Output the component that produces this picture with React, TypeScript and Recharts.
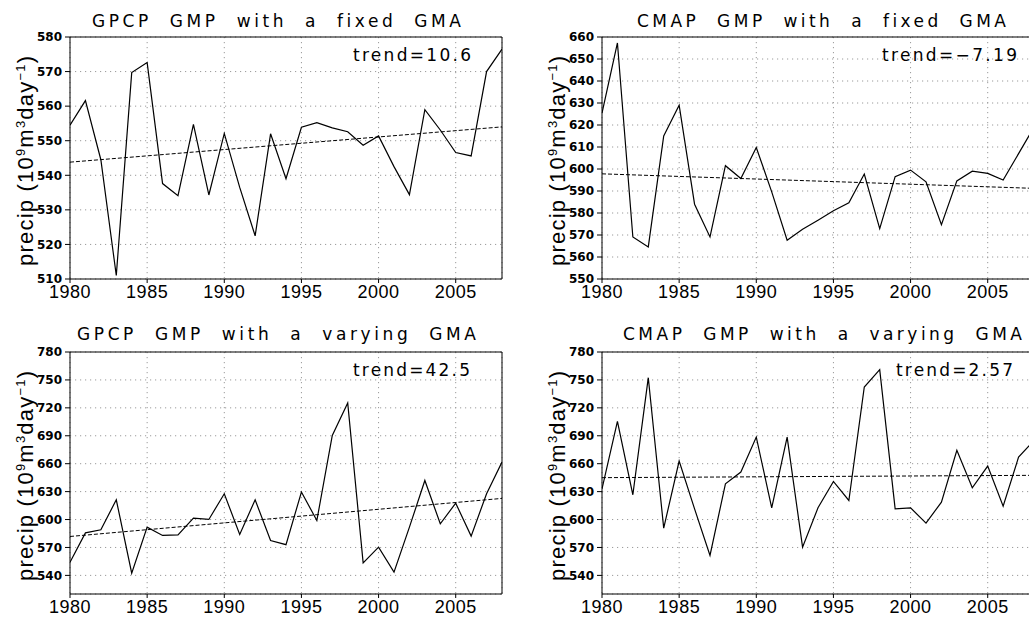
import React from "react";
import { LineChart, Line, XAxis, YAxis, CartesianGrid, ReferenceLine } from "recharts";

// years on the x axis
const years = [
  1980, 1981, 1982, 1983, 1984, 1985, 1986, 1987, 1988, 1989,
  1990, 1991, 1992, 1993, 1994, 1995, 1996, 1997, 1998, 1999,
  2000, 2001, 2002, 2003, 2004, 2005, 2006, 2007, 2008,
];
const yearTicks = [1980, 1985, 1990, 1995, 2000, 2005];
const trendYears = [1980, 2008];

// GMP series (10^9 m^3/day)
const gpcpFixed = [
  554.5, 561.6, 544.5, 511, 569.7, 572.6, 537.6, 534.1, 554.7, 534.3,
  552.1, 536.5, 522.5, 552, 539, 553.9, 555.2, 553.7, 552.6, 548.7,
  551.4, 542.5, 534.4, 559, 553.1, 546.6, 545.6, 570, 576.5,
];
const cmapFixed = [
  625.4, 657.3, 569.1, 564.6, 615, 629, 584, 569.1, 601.5, 595.7,
  609.8, 589.6, 567.6, 572.6, 576.7, 581, 584.6, 597.7, 572.9, 596.5,
  599.5, 594.2, 574.7, 594.6, 599, 598, 595, 607, 619,
];
const gpcpVarying = [
  554.2, 585.7, 589, 621.2, 542.4, 591.8, 582.9, 583.6, 601.5, 600.1,
  627.7, 584, 621.2, 577.5, 573, 629.5, 599, 690.4, 725.2, 553.5,
  570.3, 543.5, 591.8, 642, 595.4, 617.6, 582.2, 627.7, 661.7,
];
const cmapVarying = [
  633, 705.5, 626.6, 752.4, 590.8, 662.8, 611.5, 561.4, 638.4, 651,
  688.6, 612.6, 688.6, 570.3, 612.6, 640.9, 620.5, 742.4, 761, 611.5,
  612.6, 596.1, 618.7, 674.3, 634.1, 657.4, 614.4, 667.1, 685,
];

// linear trend end points (1980, 2008)
const gpcpFixedTrend = [543.8, 554];
const cmapFixedTrend = [597.8, 591.2];
const gpcpVaryingTrend = [581.8, 622.7];
const cmapVaryingTrend = [645, 647.5];

const trendLabels = ["trend=10.6", "trend=\u22127.19", "trend=42.5", "trend=2.57"];
const titles = [
  "GPCP GMP with a fixed GMA",
  "CMAP GMP with a fixed GMA",
  "GPCP GMP with a varying GMA",
  "CMAP GMP with a varying GMA",
];

const fixedTicksGpcp = [510, 520, 530, 540, 550, 560, 570, 580];
const fixedTicksCmap = [550, 560, 570, 580, 590, 600, 610, 620, 630, 640, 650, 660];
const varyingTicks = [540, 570, 600, 630, 660, 690, 720, 750, 780];

const SANS = "'Liberation Sans', Arial, sans-serif";
const WIDE = "'DejaVu Sans', sans-serif";

interface PanelProps {
  left: number;
  top: number;
  values: number[];
  trend: number[];
  domain: [number, number];
  ticks: number[];
}

function YTick({ x, y, payload }: any) {
  return (
    <text x={x} y={y} dy={4.3} textAnchor="end" fontFamily={WIDE}
      fontWeight="bold" fontSize={12} fill="#000">
      {payload.value}
    </text>
  );
}

function XTick({ x, y, payload }: any) {
  return (
    <text x={x} y={y + 13} textAnchor="middle" fontFamily={SANS} fontSize={18}
      letterSpacing={0.5} fill="#000">
      {payload.value}
    </text>
  );
}

function Panel({ left, top, values, trend, domain, ticks }: Readonly<PanelProps>) {
  const data = years.map((year, i) => ({ year, value: values[i] }));
  return (
    <div style={{ position: "absolute", left, top }}>
      <LineChart width={520} height={310} data={data}
        margin={{ top: 37, right: 18, left: 30, bottom: 1 }}>
        <CartesianGrid stroke="#9a9a9a" strokeDasharray="1.2 3.8" />
        <XAxis dataKey="year" type="number" domain={[1980, 2008]} ticks={yearTicks}
          interval={0} height={30} tickSize={4} tickMargin={2} stroke="#000"
          tick={<XTick />} allowDataOverflow />
        <YAxis domain={domain} ticks={ticks} interval={0} width={40} tickSize={5} tickMargin={3}
          stroke="#000" tick={<YTick />} allowDataOverflow />
        <ReferenceLine y={domain[1]} stroke="#000" />
        <ReferenceLine x={2008} stroke="#000" />
        <ReferenceLine
          segment={[
            { x: trendYears[0], y: trend[0] },
            { x: trendYears[1], y: trend[1] },
          ]}
          stroke="#000" strokeDasharray="4 2" />
        <Line type="linear" dataKey="value" stroke="#000" strokeWidth={1.2}
          dot={false} isAnimationActive={false} />
      </LineChart>
    </div>
  );
}

function YLabel({ x, y }: { x: number; y: number }) {
  return (
    <text transform={`translate(${x},${y}) rotate(-90)`} textAnchor="middle"
      fontFamily={SANS} fontSize={22} textLength={210} lengthAdjust="spacing" fill="#000">
      precip  (10<tspan dy={-8} fontSize={13}>9</tspan>
      <tspan dy={8}>m</tspan>
      <tspan dy={-8} fontSize={13}>3</tspan>
      <tspan dy={8}>day</tspan>
      <tspan dy={-8} fontSize={13}>{"\u22121"}</tspan>
      <tspan dy={8}>)</tspan>
    </text>
  );
}

export default function App() {
  // title / trend text placement (x start, baseline, length)
  const titleBoxes = [
    { x: 92, y: 27, w: 371 },
    { x: 637, y: 27, w: 371 },
    { x: 77, y: 340, w: 401 },
    { x: 623, y: 340, w: 401 },
  ];
  const trendBoxes = [
    { x: 353, y: 60.5, w: 118 },
    { x: 882, y: 61, w: 135 },
    { x: 353, y: 376, w: 117 },
    { x: 896, y: 376, w: 117 },
  ];

  return (
    <div style={{ position: "absolute", left: 0, top: 0, width: 1029, height: 618,
      overflow: "hidden", background: "#fff" }}>
      <Panel left={0} top={0} values={gpcpFixed} trend={gpcpFixedTrend}
        domain={[510, 580]} ticks={fixedTicksGpcp} />
      <Panel left={532} top={0} values={cmapFixed} trend={cmapFixedTrend}
        domain={[550, 660]} ticks={fixedTicksCmap} />
      <Panel left={0} top={315} values={gpcpVarying} trend={gpcpVaryingTrend}
        domain={[520, 780]} ticks={varyingTicks} />
      <Panel left={532} top={315} values={cmapVarying} trend={cmapVaryingTrend}
        domain={[520, 780]} ticks={varyingTicks} />
      <svg width={1029} height={618} style={{ position: "absolute", left: 0, top: 0, pointerEvents: "none" }}>
        {titles.map((t, i) => (
          <text key={t} x={titleBoxes[i].x} y={titleBoxes[i].y} fontFamily={WIDE} fontSize={17}
            letterSpacing={2} wordSpacing={9}
            textLength={titleBoxes[i].w} lengthAdjust="spacing" fill="#000">
            {t}
          </text>
        ))}
        {trendLabels.map((t, i) => (
          <text key={t} x={trendBoxes[i].x} y={trendBoxes[i].y} fontFamily={WIDE} fontSize={17}
            textLength={trendBoxes[i].w} lengthAdjust="spacing" fill="#000">
            {t}
          </text>
        ))}
        <YLabel x={33} y={161} />
        <YLabel x={565} y={161} />
        <YLabel x={33} y={476} />
        <YLabel x={565} y={476} />
      </svg>
    </div>
  );
}
